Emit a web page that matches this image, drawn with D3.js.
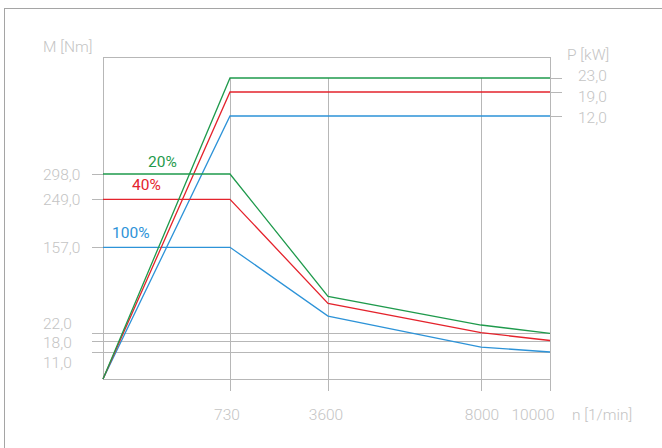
<!DOCTYPE html>
<html>
<head>
<meta charset="utf-8">
<script src="https://cdn.jsdelivr.net/npm/d3@7"></script>
<style>
  body { margin: 0; background: #fff; }
  text { font-family: Roboto, "Liberation Sans", sans-serif; font-size: 15.5px; font-weight: 300; fill: #c4c4c4; }
  text.series { font-weight: 400; }
</style>
</head>
<body>
<svg width="662" height="448"></svg>
<script>
// speeds n [1/min]
var speeds = [0, 730, 3600, 8000, 10000];
var seriesNames = ["100%", "40%", "20%"];
var seriesColors = ["#2d93d8", "#e4232c", "#1f9a4c"];
// torque M [Nm] per series
var torque100 = [157, 157, 49, 14, 11];
var torque40 = [249, 249, 69, 23, 18];
var torque20 = [298, 298, 80, 35, 22];
// power P [kW] per series
var power100 = [0, 12, 12, 12, 12];
var power40 = [0, 19, 19, 19, 19];
var power20 = [0, 23, 23, 23, 23];
// tick labels
var xTicks = [730, 3600, 8000, 10000];
var mTicks = [298, 249, 157, 22, 18, 11];
var pTicks = [23, 19, 12];

var torques = [torque100, torque40, torque20];
var powers = [power100, power40, power20];

var svg = d3.select("svg");
var grey = "#b7b7b7";

// outer frame
svg.append("rect")
    .attr("x", 4.5).attr("y", 8.5)
    .attr("width", 700).attr("height", 500)
    .attr("fill", "none").attr("stroke", "#a5a5a5");

// schematic (non linear) scales
var x = d3.scaleLinear()
    .domain([0, 730, 3600, 8000, 10000])
    .range([103, 230, 328, 481, 550]);
var yM = d3.scaleLinear()
    .domain([0, 11, 18, 22, 157, 249, 298])
    .range([379, 352, 340.5, 333.3, 247.3, 199.3, 174]);
var yP = d3.scaleLinear()
    .domain([0, 12, 19, 23])
    .range([379, 116, 92, 78]);

var fmt = function(v) { return d3.format(".1f")(v).replace(".", ","); };

// box
svg.append("rect")
    .attr("x", 103.5).attr("y", 57.5)
    .attr("width", x(10000) - 103).attr("height", 379 - 57)
    .attr("fill", "none").attr("stroke", grey);

// vertical grid + bottom ticks
svg.selectAll(".vgrid")
    .data(xTicks)
    .enter()
    .append("line")
      .attr("x1", function(d) { return Math.round(x(d)) + 0.5; })
      .attr("x2", function(d) { return Math.round(x(d)) + 0.5; })
      .attr("y1", function(d) { return d == 10000 ? 57 : yP(23); })
      .attr("y2", 391)
      .attr("stroke", grey);

var xOff = {730: -3, 3600: -2, 8000: 1, 10000: -17};
svg.selectAll(".xlab")
    .data(xTicks)
    .enter()
    .append("text")
      .attr("x", function(d) { return x(d) + xOff[d]; })
      .attr("y", 420)
      .attr("text-anchor", "middle")
      .text(function(d) { return d; });
svg.append("text").attr("x", 572).attr("y", 420).text("n [1/min]");

// horizontal grid for low torque values, ticks for all
svg.selectAll(".hgrid")
    .data(mTicks)
    .enter()
    .append("line")
      .attr("x1", 92)
      .attr("x2", function(d) { return d < 100 ? x(10000) : 103; })
      .attr("y1", function(d) { return Math.round(yM(d)) + 0.5; })
      .attr("y2", function(d) { return Math.round(yM(d)) + 0.5; })
      .attr("stroke", grey);

var mOff = {298: 0, 249: 0, 157: 0, 22: -10, 18: 1.5, 11: 10};
svg.selectAll(".mlab")
    .data(mTicks)
    .enter()
    .append("text")
      .attr("x", 43)
      .attr("y", function(d) { return yM(d) + mOff[d]; })
      .attr("dy", "0.36em")
      .text(fmt);
svg.append("text").attr("x", 43).attr("y", 52).text("M [Nm]");

// right power ticks
svg.selectAll(".ptick")
    .data(pTicks)
    .enter()
    .append("line")
      .attr("x1", x(10000))
      .attr("x2", 562)
      .attr("y1", function(d) { return Math.round(yP(d)) + 0.5; })
      .attr("y2", function(d) { return Math.round(yP(d)) + 0.5; })
      .attr("stroke", grey);

var pOff = {23: -3, 19: 4, 12: 1};
svg.selectAll(".plab")
    .data(pTicks)
    .enter()
    .append("text")
      .attr("x", 578)
      .attr("y", function(d) { return yP(d) + pOff[d]; })
      .attr("dy", "0.36em")
      .text(fmt);
svg.append("text").attr("x", 567).attr("y", 60).text("P [kW]");

// curves
var lineM = d3.line()
    .x(function(d, i) { return x(speeds[i]); })
    .y(function(d) { return yM(d); });
var lineP = d3.line()
    .x(function(d, i) { return x(speeds[i]); })
    .y(function(d) { return yP(d); });

seriesNames.forEach(function(name, k) {
    svg.append("path")
        .attr("d", lineM(torques[k]))
        .attr("fill", "none")
        .attr("stroke", seriesColors[k])
        .attr("stroke-width", 1.3);
    svg.append("path")
        .attr("d", lineP(powers[k]))
        .attr("fill", "none")
        .attr("stroke", seriesColors[k])
        .attr("stroke-width", 1.3);
});

// series labels
var labPos = {"20%": [148, -13], "40%": [132, -15], "100%": [112, -15]};
seriesNames.forEach(function(name, k) {
    svg.append("text")
        .attr("class", "series")
        .attr("x", labPos[name][0])
        .attr("y", yM(torques[k][0]) + labPos[name][1])
        .attr("dy", "0.36em")
        .style("fill", seriesColors[k])
        .text(name);
});
</script>
</body>
</html>
